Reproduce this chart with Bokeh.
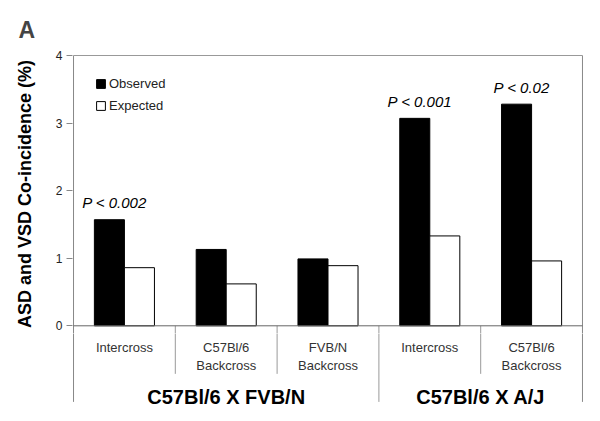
from bokeh.plotting import figure
from bokeh.layouts import column
from bokeh.models import ColumnDataSource, Range1d, FixedTicker, Legend, LegendItem
from bokeh.core.properties import value
from bokeh.embed import file_html
from bokeh.resources import INLINE

# ---- data ----
categories = ["Intercross", "C57Bl/6\nBackcross", "FVB/N\nBackcross", "Intercross", "C57Bl/6\nBackcross"]
groups = ["C57Bl/6 X FVB/N", "C57Bl/6 X A/J"]
group_sizes = [3, 2]
observed = [1.57, 1.13, 0.99, 3.07, 3.28]
expected = [0.86, 0.62, 0.89, 1.33, 0.96]
p_values = ["P < 0.002", "", "", "P < 0.001", "P < 0.02"]
y_ticks = [0, 1, 2, 3, 4]
y_max = 4

FONT = "Liberation Sans"
n = len(categories)
bw = 0.295
centers = [i + 0.5 for i in range(n)]
obs_x = [c - bw / 2 for c in centers]
exp_x = [c + bw / 2 for c in centers]

x_range = Range1d(-0.01, n + 0.01)
split = -0.114

# ---- top figure: bars ----
p = figure(width=600, height=333, output_backend="svg", toolbar_location=None,
           x_range=x_range, y_range=Range1d(split, 4.015),
           x_axis_location=None, min_border_left=72, min_border_right=17,
           min_border_top=54, min_border_bottom=0, title="A")
# ---- bottom figure: category axis ----
q = figure(width=600, height=88, output_backend="svg", toolbar_location=None,
           x_range=x_range, y_range=Range1d(-1.416, split),
           x_axis_location=None, y_axis_location=None, min_border_left=72,
           min_border_right=17, min_border_top=0, min_border_bottom=0)
for f in (p, q):
    f.outline_line_color = None
    f.xgrid.visible = False
    f.ygrid.visible = False
    f.background_fill_color = "white"

p.title.text_font = FONT
p.title.text_font_size = "23px"
p.title.text_font_style = "bold"
p.title.align = "left"
p.title.offset = -54
p.title.standoff = 20
p.title.vertical_align = "top"

ax = p.yaxis[0]
ax.ticker = FixedTicker(ticks=y_ticks)
ax.axis_line_color = None
ax.major_tick_out = 6
ax.major_tick_in = 0
ax.minor_tick_line_color = None
ax.major_tick_line_color = "#888888"
ax.major_label_text_font = FONT
ax.major_label_text_font_size = "12px"
ax.major_label_text_color = "#222222"
ax.major_label_standoff = 4
ax.axis_label = "ASD and VSD Co-incidence (%)"
ax.axis_label_text_font = FONT
ax.axis_label_text_font_size = "18px"
ax.axis_label_text_font_style = "bold"
ax.axis_label_text_color = "black"
ax.axis_label_standoff = 18

src_o = ColumnDataSource(dict(x=obs_x, top=observed))
src_e = ColumnDataSource(dict(x=exp_x, top=expected))
r_o = p.vbar(x="x", top="top", width=bw, bottom=0, source=src_o,
             fill_color="black", line_color="black")
r_e = p.vbar(x="x", top="top", width=bw, bottom=0, source=src_e,
             fill_color="white", line_color="black", line_width=1)

# separators / frame lines
long_bottom = -1.126
short_bottom = -0.711
inner = []
outer = []
group_centers = []
acc = 0
for g in group_sizes:
    group_centers.append(acc + g / 2)
    for k in range(1, g):
        inner.append(acc + k)
    acc += g
    outer.append(acc)
outer = outer[:-1]

for f in (p, q):
    f.segment(x0=[0, n], y0=[y_max, y_max], x1=[0, n], y1=[long_bottom, long_bottom],
              line_color="#888888", line_width=1)
    f.segment(x0=inner, y0=[0] * len(inner), x1=inner, y1=[short_bottom] * len(inner),
              line_color="#999999", line_width=1)
    f.segment(x0=outer, y0=[0] * len(outer), x1=outer, y1=[long_bottom] * len(outer),
              line_color="#999999", line_width=1)
p.segment(x0=[0], y0=[y_max], x1=[n], y1=[y_max], line_color="#999999", line_width=1)
p.segment(x0=[0], y0=[0], x1=[n], y1=[0], line_color="#666666", line_width=1)

# category labels
q.text(x=centers, y=[-0.215] * n, text=categories, text_font=value(FONT),
       text_font_size="13px", text_align="center", text_baseline="top",
       text_line_height=1.17, text_color="#333333")
# group labels
q.text(x=group_centers, y=[-1.05] * len(groups), text=groups, text_font=value(FONT),
       text_font_size="20px", text_font_style="bold", text_align="center",
       text_baseline="alphabetic", text_color="black")

# p-value annotations
px = [obs_x[i] + 0.05 for i in range(n) if p_values[i]]
py = [observed[i] + 0.25 for i in range(n) if p_values[i]]
pt = [p_values[i] for i in range(n) if p_values[i]]
p.text(x=px, y=py, text=pt, text_font=value(FONT), text_font_size="15px",
       text_font_style="italic", text_align="center", text_baseline="alphabetic",
       text_color="black")

legend = Legend(items=[LegendItem(label="Observed", renderers=[r_o]),
                       LegendItem(label="Expected", renderers=[r_e])],
                location=(23, 218), margin=0, padding=0, spacing=2,
                glyph_width=11, glyph_height=11, label_height=20, label_standoff=3,
                label_text_font=FONT, label_text_font_size="13px",
                label_text_color="#222222",
                border_line_color=None, background_fill_color=None)
p.add_layout(legend)

layout = column(p, q, spacing=0)
open("out.html", "w").write(file_html(layout, INLINE))
